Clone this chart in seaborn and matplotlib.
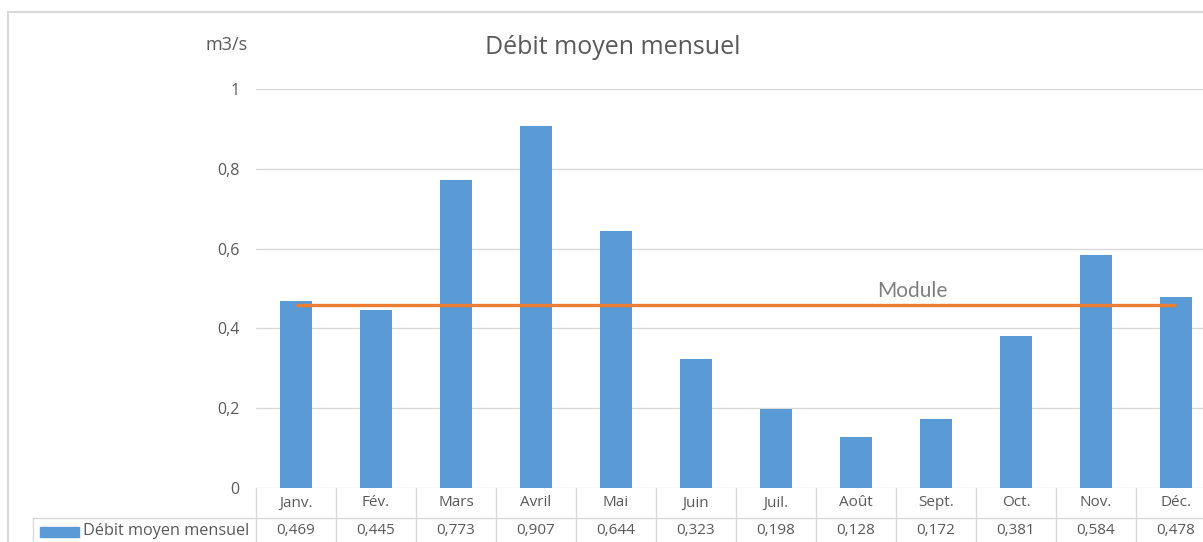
import matplotlib
matplotlib.use("Agg")
import matplotlib.pyplot as plt
import matplotlib.transforms as mtransforms
from matplotlib.patches import Rectangle
from matplotlib.lines import Line2D
from matplotlib.ticker import FuncFormatter, MultipleLocator
import seaborn as sns
import pandas as pd

mois = ["Janv.", "Fév.", "Mars", "Avril", "Mai", "Juin",
        "Juil.", "Août", "Sept.", "Oct.", "Nov.", "Déc."]
debit = [0.469, 0.445, 0.773, 0.907, 0.644, 0.323,
         0.198, 0.128, 0.172, 0.381, 0.584, 0.478]
module = 0.459
titre = "Débit moyen mensuel"
serie = "Débit moyen mensuel"
unite = "m3/s"

bleu = "#5b9bd5"
orange = "#ed7d31"
gris = "#d9d9d9"
texte = "#595959"

W, H = 1203, 542
sns.set_style("white")
plt.rcParams["font.family"] = ["Open Sans", "DejaVu Sans"]

fig = plt.figure(figsize=(W / 100, H / 100), dpi=100)


def fx(x):
    return x / W


def fy(y):
    return 1 - y / H


# cadre du graphique (coupé à droite et en bas)
fig.patches.append(Rectangle((fx(8), fy(620)), fx(1300), fy(12) - fy(620),
                             transform=fig.transFigure, fill=False,
                             edgecolor=gris, lw=1.5))

ax = fig.add_axes([fx(256), fy(488), fx(1216) - fx(256), fy(89) - fy(488)])
df = pd.DataFrame({"mois": mois, "debit": debit})
sns.barplot(data=df, x="mois", y="debit", color=bleu, saturation=1,
            width=0.4, linewidth=0, ax=ax)
ax.hlines(module, 0, len(mois) - 1, color=orange, lw=2.4)
ax.text(7.7, module + 0.01, "Module", ha="center", va="bottom",
        color="#7f7f7f", fontsize=15, family=["Lato", "DejaVu Sans"])

ax.set_xlim(-0.5, len(mois) - 0.5)
ax.set_ylim(0, 1)
ax.yaxis.set_major_locator(MultipleLocator(0.2))
ax.yaxis.set_major_formatter(FuncFormatter(lambda v, p: f"{v:g}".replace(".", ",")))
ax.grid(axis="y", color=gris, lw=1)
ax.set_axisbelow(True)
for s in ax.spines.values():
    s.set_visible(False)
ax.tick_params(axis="y", length=0, pad=12, labelsize=11.5, labelcolor=texte)
ax.set_xticks([])
ax.set_xlabel("")
ax.set_ylabel("")

# table de données sous l'axe
trans = mtransforms.blended_transform_factory(ax.transData, fig.transFigure)
for i in range(len(mois) + 1):
    fig.add_artist(Line2D([i - 0.5, i - 0.5], [fy(488), fy(600)], transform=trans,
                          color=gris, lw=1))
fig.add_artist(Line2D([fx(33), fx(1300)], [fy(518), fy(518)],
                      transform=fig.transFigure, color=gris, lw=1))
fig.add_artist(Line2D([fx(33), fx(33)], [fy(518), fy(600)],
                      transform=fig.transFigure, color=gris, lw=1))
for i, (m, v) in enumerate(zip(mois, debit)):
    fig.text(i, fy(503), m, transform=trans, ha="center", va="center",
             fontsize=11, color=texte)
    fig.text(i, fy(531), f"{v:.3f}".replace(".", ","), transform=trans,
             ha="center", va="center", fontsize=11, color=texte)
fig.patches.append(Rectangle((fx(40), fy(537)), fx(79) - fx(40), fy(527) - fy(537),
                             transform=fig.transFigure, color=bleu))
fig.text(fx(249), fy(531), serie, ha="right", va="center", fontsize=11.7, color=texte)

fig.text(fx(613), fy(47), titre, ha="center", va="center", fontsize=18, color=texte)
fig.text(fx(227), fy(45), unite, ha="center", va="center", fontsize=13, color=texte)

fig.savefig("out.png", dpi=100)
